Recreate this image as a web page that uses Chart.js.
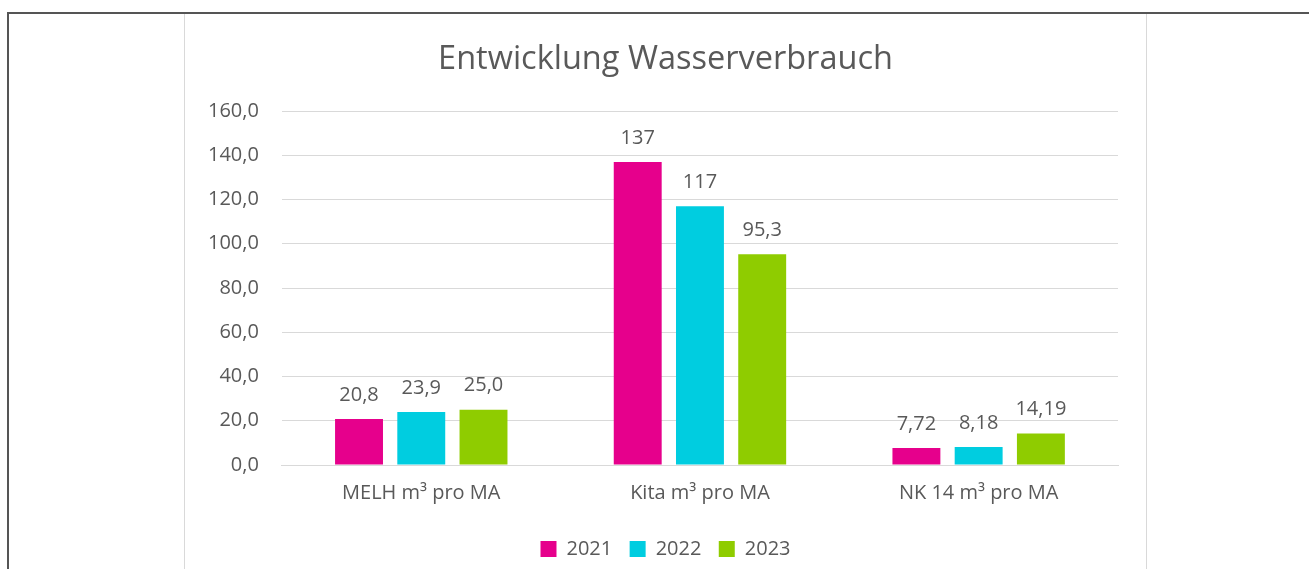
<!DOCTYPE html>
<html>
<head>
<meta charset="utf-8">
<script src="https://cdn.jsdelivr.net/npm/chart.js@4.4.0/dist/chart.umd.min.js"></script>
<style>
  html, body { margin: 0; padding: 0; background: #fff; }
  body { width: 1309px; height: 569px; position: relative; overflow: hidden; }
  #frame {
    position: absolute; left: 7px; top: 12px; right: 0; bottom: 0;
    border-top: 2px solid #555; border-left: 2px solid #555;
  }
  #box {
    position: absolute; left: 184px; top: 14px; width: 961px; height: 555px;
    border-left: 1px solid #d9d9d9; border-right: 1px solid #d9d9d9;
  }
</style>
</head>
<body>
<div id="frame"></div>
<div id="box"><canvas id="wasserChart"></canvas></div>
<script>
// Daten aus dem Diagramm
const kategorien = ['MELH m³ pro MA', 'Kita m³ pro MA', 'NK 14 m³ pro MA'];
const jahre = ['2021', '2022', '2023'];
const werte2021 = [20.8, 137, 7.72];
const werte2022 = [23.9, 117, 8.18];
const werte2023 = [25.0, 95.3, 14.19];
// Beschriftungen wie im Original
const labels2021 = ['20,8', '137', '7,72'];
const labels2022 = ['23,9', '117', '8,18'];
const labels2023 = ['25,0', '95,3', '14,19'];
const farben = ['#e6008c', '#00cde0', '#8fcc00'];

const grau = '#595959';
const schrift = "'Open Sans', 'Noto Sans', sans-serif";

// Werte über den Balken schreiben
const wertePlugin = {
    id: 'wertePlugin',
    afterDatasetsDraw(chart) {
        const ctx = chart.ctx;
        ctx.save();
        ctx.font = '20px ' + schrift;
        ctx.fillStyle = grau;
        ctx.textAlign = 'center';
        ctx.textBaseline = 'middle';
        chart.data.datasets.forEach(function (ds, i) {
            const meta = chart.getDatasetMeta(i);
            meta.data.forEach(function (bar, j) {
                ctx.fillText(ds.werteText[j], bar.x, bar.y - 24);
            });
        });
        ctx.restore();
    }
};

document.addEventListener('DOMContentLoaded', function () {
    const ctx = document.getElementById('wasserChart').getContext('2d');
    const datasets = [werte2021, werte2022, werte2023].map(function (w, i) {
        return {
            label: jahre[i],
            data: w,
            werteText: [labels2021, labels2022, labels2023][i],
            backgroundColor: farben[i],
            borderWidth: 0,
            barPercentage: 0.77,
            categoryPercentage: 0.67
        };
    });
    new Chart(ctx, {
        type: 'bar',
        data: { labels: kategorien, datasets: datasets },
        options: {
            responsive: true,
            maintainAspectRatio: false,
            animation: false,
            layout: { padding: { left: 0, right: 0, top: 0, bottom: 0 } },
            plugins: {
                title: {
                    display: true,
                    text: 'Entwicklung Wasserverbrauch',
                    color: grau,
                    font: { family: schrift, size: 32.5, weight: 'normal' },
                    padding: { top: 26, bottom: 32 }
                },
                legend: {
                    position: 'bottom',
                    labels: {
                        color: grau,
                        font: { family: schrift, size: 20 },
                        boxWidth: 16,
                        boxHeight: 16,
                        padding: 7,
                        generateLabels: function (chart) {
                            const items = Chart.defaults.plugins.legend.labels.generateLabels(chart);
                            items.forEach(function (it, i) {
                                if (i < items.length - 1) it.text = it.text + '  ';
                            });
                            return items;
                        }
                    }
                },
                tooltip: { enabled: false }
            },
            scales: {
                x: {
                    grid: { display: false },
                    border: { color: '#d9d9d9' },
                    ticks: { color: grau, font: { family: schrift, size: 20 }, padding: 8 },
                    afterFit: function (scale) { scale.height += 19; }
                },
                y: {
                    min: 0,
                    max: 160,
                    ticks: {
                        stepSize: 20,
                        color: grau,
                        font: { family: schrift, size: 20 },
                        padding: 23,
                        callback: function (v) { return v.toFixed(1).replace('.', ','); }
                    },
                    grid: { color: '#d9d9d9', drawTicks: false },
                    border: { display: false }
                },
                // leerer Rand rechts, damit Titel und Legende mittig bleiben
                rand: {
                    type: 'linear',
                    position: 'right',
                    grid: { display: false },
                    border: { display: false },
                    ticks: { display: false },
                    afterFit: function (scale) { scale.width = 28; }
                }
            }
        },
        plugins: [wertePlugin]
    });
});
</script>
</body>
</html>
